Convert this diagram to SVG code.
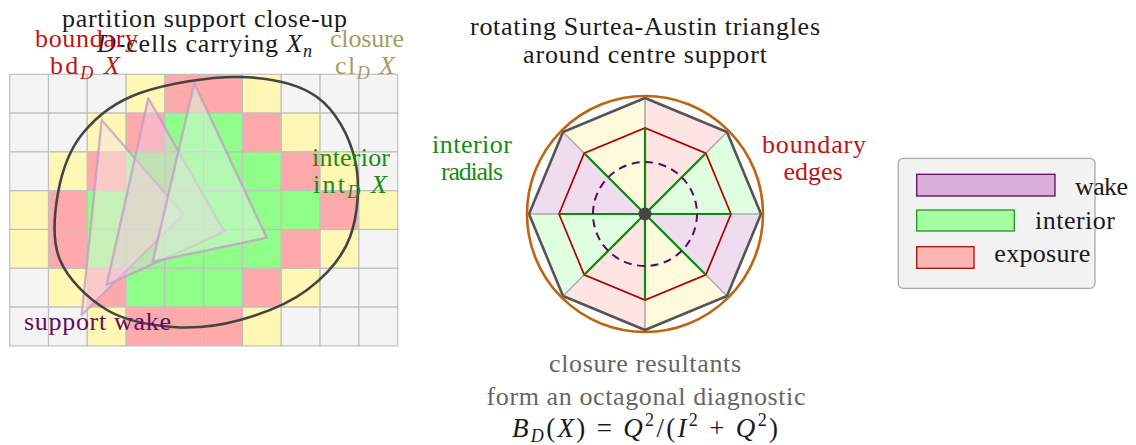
<svg xmlns="http://www.w3.org/2000/svg" width="1136" height="445" viewBox="0 0 1136 445" font-family="'Liberation Serif', 'Times New Roman', serif">
<style>
text{font-family:"Liberation Serif","Times New Roman",serif;font-size:26px;fill:#1a1a1a}
.c{text-anchor:middle}
.i{font-style:italic}
.s{font-size:18px}
.red{fill:#c01414}
.olv{fill:#a39e63}
.grn{fill:#168c16}
.pur{fill:#660a66}
.gry{fill:#666}
.cg{fill:#f4f4f4}.cy{fill:#fff7b3}.cr{fill:#ffaaaa}.cn{fill:#8fff8a}
#grid rect{stroke:#c0c0c0;stroke-width:1.2}
.tri{stroke:#c49ac4;stroke-opacity:0.75;stroke-width:2.4;stroke-linejoin:round}
</style>
<rect width="1136" height="445" fill="#fff"/>

<g id="left-panel">
<g id="grid">
<!-- row 0 -->
<rect class="cg" x="9.7" y="74.3" width="38.8" height="38.8"/>
<rect class="cg" x="48.5" y="74.3" width="38.8" height="38.8"/>
<rect class="cg" x="87.3" y="74.3" width="38.8" height="38.8"/>
<rect class="cy" x="126.1" y="74.3" width="38.8" height="38.8"/>
<rect class="cr" x="164.9" y="74.3" width="38.8" height="38.8"/>
<rect class="cr" x="203.7" y="74.3" width="38.8" height="38.8"/>
<rect class="cy" x="242.5" y="74.3" width="38.8" height="38.8"/>
<rect class="cg" x="281.3" y="74.3" width="38.8" height="38.8"/>
<rect class="cg" x="320.1" y="74.3" width="38.8" height="38.8"/>
<rect class="cg" x="358.9" y="74.3" width="38.8" height="38.8"/>
<!-- row 1 -->
<rect class="cg" x="9.7" y="113.1" width="38.8" height="38.8"/>
<rect class="cg" x="48.5" y="113.1" width="38.8" height="38.8"/>
<rect class="cy" x="87.3" y="113.1" width="38.8" height="38.8"/>
<rect class="cr" x="126.1" y="113.1" width="38.8" height="38.8"/>
<rect class="cn" x="164.9" y="113.1" width="38.8" height="38.8"/>
<rect class="cn" x="203.7" y="113.1" width="38.8" height="38.8"/>
<rect class="cr" x="242.5" y="113.1" width="38.8" height="38.8"/>
<rect class="cy" x="281.3" y="113.1" width="38.8" height="38.8"/>
<rect class="cg" x="320.1" y="113.1" width="38.8" height="38.8"/>
<rect class="cg" x="358.9" y="113.1" width="38.8" height="38.8"/>
<!-- row 2 -->
<rect class="cg" x="9.7" y="151.9" width="38.8" height="38.8"/>
<rect class="cy" x="48.5" y="151.9" width="38.8" height="38.8"/>
<rect class="cr" x="87.3" y="151.9" width="38.8" height="38.8"/>
<rect class="cn" x="126.1" y="151.9" width="38.8" height="38.8"/>
<rect class="cn" x="164.9" y="151.9" width="38.8" height="38.8"/>
<rect class="cn" x="203.7" y="151.9" width="38.8" height="38.8"/>
<rect class="cn" x="242.5" y="151.9" width="38.8" height="38.8"/>
<rect class="cr" x="281.3" y="151.9" width="38.8" height="38.8"/>
<rect class="cy" x="320.1" y="151.9" width="38.8" height="38.8"/>
<rect class="cg" x="358.9" y="151.9" width="38.8" height="38.8"/>
<!-- row 3 -->
<rect class="cy" x="9.7" y="190.7" width="38.8" height="38.8"/>
<rect class="cr" x="48.5" y="190.7" width="38.8" height="38.8"/>
<rect class="cn" x="87.3" y="190.7" width="38.8" height="38.8"/>
<rect class="cn" x="126.1" y="190.7" width="38.8" height="38.8"/>
<rect class="cn" x="164.9" y="190.7" width="38.8" height="38.8"/>
<rect class="cn" x="203.7" y="190.7" width="38.8" height="38.8"/>
<rect class="cn" x="242.5" y="190.7" width="38.8" height="38.8"/>
<rect class="cn" x="281.3" y="190.7" width="38.8" height="38.8"/>
<rect class="cr" x="320.1" y="190.7" width="38.8" height="38.8"/>
<rect class="cy" x="358.9" y="190.7" width="38.8" height="38.8"/>
<!-- row 4 -->
<rect class="cy" x="9.7" y="229.5" width="38.8" height="38.8"/>
<rect class="cr" x="48.5" y="229.5" width="38.8" height="38.8"/>
<rect class="cn" x="87.3" y="229.5" width="38.8" height="38.8"/>
<rect class="cn" x="126.1" y="229.5" width="38.8" height="38.8"/>
<rect class="cn" x="164.9" y="229.5" width="38.8" height="38.8"/>
<rect class="cn" x="203.7" y="229.5" width="38.8" height="38.8"/>
<rect class="cn" x="242.5" y="229.5" width="38.8" height="38.8"/>
<rect class="cr" x="281.3" y="229.5" width="38.8" height="38.8"/>
<rect class="cy" x="320.1" y="229.5" width="38.8" height="38.8"/>
<rect class="cg" x="358.9" y="229.5" width="38.8" height="38.8"/>
<!-- row 5 -->
<rect class="cg" x="9.7" y="268.3" width="38.8" height="38.8"/>
<rect class="cy" x="48.5" y="268.3" width="38.8" height="38.8"/>
<rect class="cr" x="87.3" y="268.3" width="38.8" height="38.8"/>
<rect class="cn" x="126.1" y="268.3" width="38.8" height="38.8"/>
<rect class="cn" x="164.9" y="268.3" width="38.8" height="38.8"/>
<rect class="cn" x="203.7" y="268.3" width="38.8" height="38.8"/>
<rect class="cr" x="242.5" y="268.3" width="38.8" height="38.8"/>
<rect class="cy" x="281.3" y="268.3" width="38.8" height="38.8"/>
<rect class="cg" x="320.1" y="268.3" width="38.8" height="38.8"/>
<rect class="cg" x="358.9" y="268.3" width="38.8" height="38.8"/>
<!-- row 6 -->
<rect class="cg" x="9.7" y="307.1" width="38.8" height="38.8"/>
<rect class="cg" x="48.5" y="307.1" width="38.8" height="38.8"/>
<rect class="cy" x="87.3" y="307.1" width="38.8" height="38.8"/>
<rect class="cr" x="126.1" y="307.1" width="38.8" height="38.8"/>
<rect class="cr" x="164.9" y="307.1" width="38.8" height="38.8"/>
<rect class="cr" x="203.7" y="307.1" width="38.8" height="38.8"/>
<rect class="cy" x="242.5" y="307.1" width="38.8" height="38.8"/>
<rect class="cg" x="281.3" y="307.1" width="38.8" height="38.8"/>
<rect class="cg" x="320.1" y="307.1" width="38.8" height="38.8"/>
<rect class="cg" x="358.9" y="307.1" width="38.8" height="38.8"/>
</g>

<g id="triangles">
<polygon class="tri" points="101.7,120 183.3,214.3 81.7,315" fill="#f6e4dc" fill-opacity="0.55"/>
<polygon class="tri" points="148.3,98.3 224.3,231.7 106.7,285" fill="#f0c6dc" fill-opacity="0.5"/>
<polygon class="tri" points="194.3,83.3 266.7,237.7 152.7,261.7" fill="#d6f2d6" fill-opacity="0.55"/>
</g>

<g id="support-blob">
<path d="M240,77 C269.5,77.7 297.8,83.2 317,97 C336.2,110.8 349.5,136.7 355,160 C360.5,183.3 358,215.3 350,237 C342,258.7 325.3,276.2 307,290 C288.7,303.8 262.3,313.8 240,320 C217.7,326.2 195.2,328.7 173,327 C150.8,325.3 125.8,321.2 107,310 C88.2,298.8 68.2,279.5 60,260 C51.8,240.5 54.2,214.2 58,193 C61.8,171.8 69.3,149.7 83,133 C96.7,116.3 113.8,102.3 140,93 C166.2,83.7 210.5,76.3 240,77 Z" fill="none" stroke="#444" stroke-width="2.6"/>
</g>

<g id="left-labels">
<text class="c" x="204.5" y="27" textLength="285">partition support close-up</text>
<text class="c" x="204.5" y="52" textLength="215"><tspan class="i">D</tspan>-cells carrying <tspan class="i">X</tspan><tspan class="i s" dy="5">n</tspan></text>
<text class="c red" x="86.5" y="46.5" textLength="103">boundary</text>
<text class="c red" x="85" y="74" textLength="70">bd<tspan class="i s" dy="5">D</tspan><tspan dy="-5"> </tspan><tspan class="i">X</tspan></text>
<text class="c olv" x="367" y="46.5" textLength="74">closure</text>
<text class="c olv" x="365" y="74" textLength="60">cl<tspan class="i s" dy="5">D</tspan><tspan dy="-5"> </tspan><tspan class="i">X</tspan></text>
<text class="c grn" x="351" y="166" textLength="78">interior</text>
<text class="c grn" x="350" y="193" textLength="74">int<tspan class="i s" dy="5">D</tspan><tspan dy="-5"> </tspan><tspan class="i">X</tspan></text>
<text class="c pur" x="97.5" y="330" textLength="147">support wake</text>
</g>
</g>

<g id="octagon">
<g id="sectors" stroke="none">
<polygon points="645,214 761,214 727,132" fill="#e0ffe0"/>
<polygon points="645,214 727,132 645,98" fill="#ffe4e4"/>
<polygon points="645,214 645,98 563,132" fill="#fffadc"/>
<polygon points="645,214 563,132 529,214" fill="#efdcef"/>
<polygon points="645,214 529,214 563,296" fill="#e0ffe0"/>
<polygon points="645,214 563,296 645,330" fill="#ffe4e4"/>
<polygon points="645,214 645,330 727,296" fill="#fffadc"/>
<polygon points="645,214 727,296 761,214" fill="#efdcef"/>
</g>
<g id="gray-spokes" stroke="#ababab" stroke-width="1.6">
<line x1="645" y1="214" x2="761" y2="214"/>
<line x1="645" y1="214" x2="727" y2="132"/>
<line x1="645" y1="214" x2="645" y2="98"/>
<line x1="645" y1="214" x2="563" y2="132"/>
<line x1="645" y1="214" x2="529" y2="214"/>
<line x1="645" y1="214" x2="563" y2="296"/>
<line x1="645" y1="214" x2="645" y2="330"/>
<line x1="645" y1="214" x2="727" y2="296"/>
</g>
<polygon id="outer-octagon" points="761,214 727,132 645,98 563,132 529,214 563,296 645,330 727,296" fill="none" stroke="#555" stroke-width="2.6" stroke-linejoin="miter"/>
<circle id="outer-circle" cx="645" cy="214" r="118" fill="none" stroke="#c0640f" stroke-width="2.6"/>
<polygon id="inner-octagon" points="731,214 705.8,153.2 645,128 584.2,153.2 559,214 584.2,274.8 645,300 705.8,274.8" fill="none" stroke="#b00000" stroke-width="1.7"/>
<g id="radials" stroke="#0e8a0e" stroke-width="2.2">
<line x1="645" y1="214" x2="731" y2="214"/>
<line x1="645" y1="214" x2="705.8" y2="153.2"/>
<line x1="645" y1="214" x2="645" y2="128"/>
<line x1="645" y1="214" x2="584.2" y2="153.2"/>
<line x1="645" y1="214" x2="559" y2="214"/>
<line x1="645" y1="214" x2="584.2" y2="274.8"/>
<line x1="645" y1="214" x2="645" y2="300"/>
<line x1="645" y1="214" x2="705.8" y2="274.8"/>
</g>
<circle id="wake-circle" cx="645" cy="214" r="52" fill="none" stroke="#5a0a5a" stroke-width="2" stroke-dasharray="8,5.6"/>
<circle id="centre" cx="645" cy="214" r="6.5" fill="#444"/>
</g>

<g id="right-labels">
<text class="c" x="645" y="35" textLength="350">rotating Surtea-Austin triangles</text>
<text class="c" x="645" y="63" textLength="244">around centre support</text>
<text class="c grn" x="472" y="153" textLength="80">interior</text>
<text class="c grn" x="472" y="180" textLength="62">radials</text>
<text class="c red" x="814" y="153" textLength="104">boundary</text>
<text class="c red" x="813" y="180" textLength="59">edges</text>
<text class="c gry" x="645" y="372" textLength="192">closure resultants</text>
<text class="c gry" x="646" y="405" textLength="319">form an octagonal diagnostic</text>
<text class="c" x="645" y="437" style="font-size:27px" textLength="266"><tspan class="i">B</tspan><tspan class="i s" dy="5">D</tspan><tspan dy="-5">(</tspan><tspan class="i">X</tspan><tspan>) = </tspan><tspan class="i">Q</tspan><tspan class="s" dy="-11">2</tspan><tspan dy="11">/(</tspan><tspan class="i">I</tspan><tspan class="s" dy="-11">2</tspan><tspan dy="11"> + </tspan><tspan class="i">Q</tspan><tspan class="s" dy="-11">2</tspan><tspan dy="11">)</tspan></text>
</g>

<g id="legend">
<rect x="898.3" y="158.3" width="196.7" height="130" rx="5" fill="#f2f2f2" stroke="#aaa" stroke-width="1.3"/>
<rect x="916.7" y="174.3" width="138.3" height="21.7" fill="#d8b0d8" stroke="#6a006a" stroke-width="1.3"/>
<rect x="916.7" y="210" width="97.6" height="21" fill="#a6ffa0" stroke="#1a9a1a" stroke-width="1.3"/>
<rect x="916.7" y="246.7" width="57.3" height="21.6" fill="#ffb4b4" stroke="#a01010" stroke-width="1.3"/>
<text x="1075" y="195" textLength="53">wake</text>
<text x="1035" y="229" textLength="80">interior</text>
<text x="994.3" y="262" textLength="96">exposure</text>
</g>
</svg>
